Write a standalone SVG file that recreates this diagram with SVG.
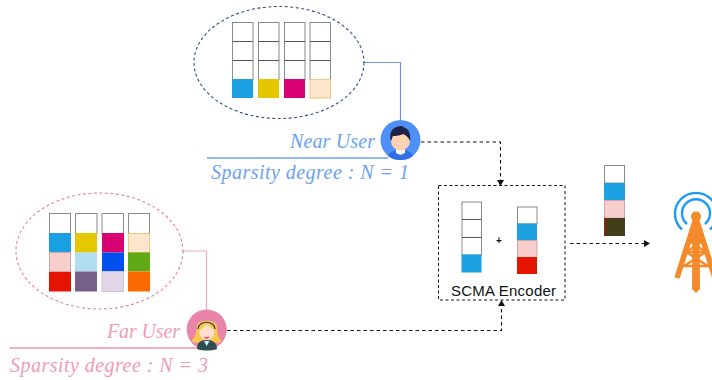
<svg xmlns="http://www.w3.org/2000/svg" width="712" height="380" viewBox="0 0 712 380">
<defs>
<style>
.c{stroke:#8a8a8a;stroke-width:1;fill:#fff}
.s{stroke:#555;stroke-width:1;fill:none}
.m{font-family:"Liberation Serif",serif;font-style:italic;font-size:20px}
.n{fill:#6aa2f5}
.f{fill:#f29ab8}
.d{fill:none;stroke:#111;stroke-width:1.1;stroke-dasharray:3.5 3}
.skin{fill:#fbd3ae}
</style>
<marker id="a" viewBox="0 0 8 8" refX="6" refY="4" markerWidth="8" markerHeight="8" markerUnits="userSpaceOnUse" orient="auto"><path d="M1 0.5L7 4L1 7.5Z" fill="#111"/></marker>
</defs>
<rect width="712" height="380" fill="#fff"/>
<g id="connectors">
<path d="M363 62.500H400.500V121" fill="none" stroke="#6a97e8" stroke-width="1.200"/>
<path d="M183 251H206.500V310" fill="none" stroke="#f0a6c0" stroke-width="1.200"/>
<path class="d" d="M421 142H500.500V185" marker-end="url(#a)"/>
<path class="d" d="M227 330.500H501.500V301" marker-end="url(#a)"/>
<path class="d" d="M570 243.500H649" marker-end="url(#a)"/>
</g>
<g id="near-buffer">
<ellipse cx="279" cy="62.500" rx="85" ry="56" fill="none" stroke="#2f5288" stroke-width="1.100" stroke-dasharray="3 2.500"/>
<rect class="c" x="232.500" y="22.500" width="20.500" height="57"/><path class="s" d="M232.500 41.500H253M232.500 60.500H253"/><rect x="232" y="79" width="21" height="19" fill="#1ba1e2"/>
<rect class="c" x="258.500" y="22.500" width="20.500" height="57"/><path class="s" d="M258.500 41.500H279M258.500 60.500H279"/><rect x="258" y="79" width="21" height="19" fill="#e3c800"/>
<rect class="c" x="284.500" y="22.500" width="20.500" height="57"/><path class="s" d="M284.500 41.500H305M284.500 60.500H305"/><rect x="284" y="79" width="21" height="19" fill="#d80073"/>
<rect class="c" x="310" y="22.500" width="20.500" height="57"/><path class="s" d="M310 41.500H330.500M310 60.500H330.500"/><rect x="310" y="79.500" width="20.500" height="18.500" fill="#ffe6cc" stroke="#eec77e" stroke-width="1"/>
</g>
<g id="near-user">
<circle cx="400.500" cy="140" r="20" fill="#4d90f7"/>
<path d="M388 156C390 151 396 150 400.500 150C405 150 411 151 413 156C409 159 405 160 400.500 160C396 160 392 159 388 156Z" fill="#2f6fe8"/>
<path d="M396 149H405V153L400.500 155L396 153Z" fill="#fff"/>
<ellipse cx="400.500" cy="141" rx="9.500" ry="9.500" class="skin"/>
<path d="M391 141C388 131 394 126 402 126L405 128C409 129 411 135 410 141C408 137 406 135 403 134C399 136 394 136 393 136C392 138 392 139 391 141Z" fill="#1f2147"/>
<text class="m n" x="290" y="148" textLength="85">Near User</text>
<path d="M207 158H388" stroke="#6aa2f5" stroke-width="1.300"/>
<text class="m n" x="211" y="179" textLength="198">Sparsity degree : N = 1</text>
</g>
<g id="far-buffer">
<ellipse cx="99.500" cy="251" rx="83.500" ry="58" fill="none" stroke="#e8809f" stroke-width="1.100" stroke-dasharray="3 2.500"/>
<rect class="c" x="49.500" y="213.500" width="21" height="20"/><rect x="49" y="233" width="22" height="19.500" fill="#1ba1e2"/><rect x="49.500" y="252.500" width="21" height="19" fill="#f8cecc" stroke="#d6a3a3"/><rect x="49" y="272" width="22" height="19.500" fill="#e51400"/>
<rect class="c" x="75.500" y="213.500" width="21.500" height="20"/><rect x="75" y="233" width="22" height="19.500" fill="#e3c800"/><rect x="75" y="252.500" width="22" height="19" fill="#b1ddf0"/><rect x="75" y="271.500" width="22" height="20" fill="#76608a"/>
<rect class="c" x="102" y="213.500" width="21.500" height="20"/><rect x="102" y="233" width="22" height="19.500" fill="#d80073"/><rect x="102" y="252.500" width="22" height="19" fill="#0050ef"/><rect x="102" y="271.500" width="21.500" height="20" fill="#e1d5e7" stroke="#cfc1d6"/>
<rect class="c" x="128.500" y="213.500" width="21" height="20"/><rect x="128.500" y="233.500" width="21" height="19" fill="#ffe6cc" stroke="#eec77e"/><rect x="128" y="252.500" width="22" height="19" fill="#60a917"/><rect x="128" y="271.500" width="22" height="20" fill="#fa6800"/>
</g>
<g id="far-user">
<circle cx="206.700" cy="329.500" r="20" fill="#e985ab"/>
<path d="M197 326C196 335 194 339 191 341C195 344 199 343 201 341H212C214 343 218 344 222 341C219 339 217 335 217 326C216 319 197 319 197 326Z" fill="#fbc64e"/>
<path d="M197 349C197 342 201 340 206.700 340C212 340 217 342 217 349C211 351 203 351 197 349Z" fill="#2d4f52"/>
<ellipse cx="206.700" cy="332" rx="7.500" ry="8" fill="#fde0cc"/>
<path d="M199 330C199 323 203 322 207 322C211 322 215 323 215 330C212 329 209 326 207 324C205 326 202 329 199 330Z" fill="#fbc64e"/>
<path d="M198 329C198 320 215 320 215 329" fill="none" stroke="#2d3a4a" stroke-width="1.200"/>
<path d="M204.500 337Q206.700 339 209 337" fill="none" stroke="#e8485f" stroke-width="1.200"/>
<path d="M204 341L206.700 346L209.500 341" fill="#e6eeee"/>
<text class="m f" x="107" y="338" textLength="73">Far User</text>
<path d="M9.500 348H197" stroke="#ec94b3" stroke-width="1.300"/>
<text class="m f" x="10" y="371.500" textLength="198">Sparsity degree : N = 3</text>
</g>
<g id="scma-encoder">
<rect x="438.500" y="185.500" width="126.500" height="114.500" fill="none" stroke="#111" stroke-width="1" stroke-dasharray="3 2.500"/>
<rect class="c" x="462" y="202" width="19.500" height="53"/><path class="s" d="M462 219.500H481.500M462 237.500H481.500"/><rect x="461.500" y="254.500" width="20" height="18" fill="#1ba1e2"/>
<rect class="c" x="517.500" y="207" width="19.500" height="17"/><rect x="517" y="223.500" width="20" height="17" fill="#1ba1e2"/><rect x="517.500" y="240.500" width="19.500" height="17" fill="#f8cecc" stroke="#d6a3a3"/><rect x="517" y="257" width="20" height="17" fill="#e51400"/>
<text x="499" y="243.500" text-anchor="middle" font-family="Liberation Sans, sans-serif" font-size="10" font-weight="bold" fill="#111">+</text>
<text x="451" y="296" font-family="Liberation Sans, sans-serif" font-size="15" fill="#111" textLength="105">SCMA Encoder</text>
</g>
<g id="signal">
<rect class="c" x="604.500" y="165.500" width="20" height="17.500"/>
<rect x="604" y="183" width="21" height="17.500" fill="#1ba1e2"/>
<rect x="604.500" y="200.500" width="20" height="17.500" fill="#f8cecc" stroke="#d6a3a3"/>
<rect x="604" y="218" width="21" height="18" fill="#433e1a"/>
<rect x="604" y="218" width="1" height="18" fill="#c01000"/>
</g>
<g id="tower" fill="none">
<path d="M687 224A14 14 0 1 1 705 224" stroke="#1c9cf2" stroke-width="2.400"/>
<path d="M682 229.500A21 21 0 1 1 710 229.500" stroke="#1c9cf2" stroke-width="2.400"/>
<path d="M696 218L677 278M696 218L715 278" stroke="#f58a2b" stroke-width="5.500"/>
<path d="M692 226L704 240L686 252L708 266M700 226L688 240L706 252L684 266M688 240H704M685 252H707M681 266H711" stroke="#f58a2b" stroke-width="2.400"/>
<path d="M692.500 222H699.500L700 289L696 293L692 289Z" fill="#f58a2b"/>
<circle cx="696" cy="216.500" r="5" fill="#f58a2b"/>
</g>
</svg>
